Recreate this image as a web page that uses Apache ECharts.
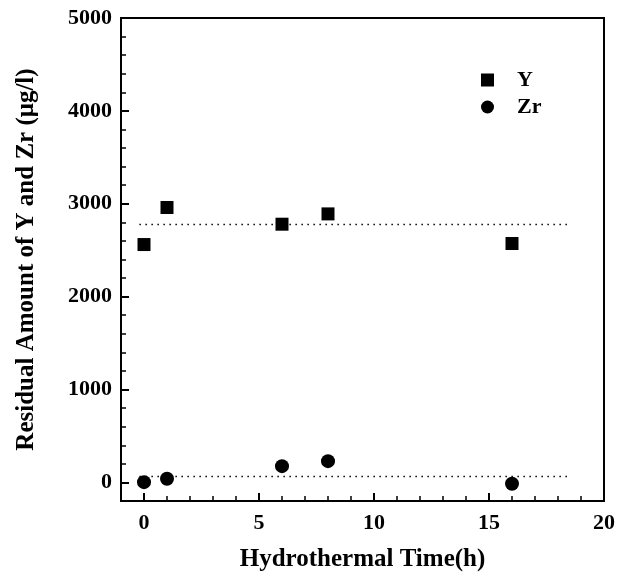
<!DOCTYPE html>
<html>
<head>
<meta charset="utf-8">
<script src="https://cdn.jsdelivr.net/npm/echarts@6/dist/echarts.min.js"></script>
<style>
html,body{margin:0;padding:0;background:#fff;}
#chart{width:628px;height:577px;}
</style>
</head>
<body>
<div id="chart"></div>
<script>
// ---- data ----
const timeH = [0, 1, 6, 8, 16];
const yResidual = [2561, 2960, 2780, 2891, 2572];
const zrResidual = [3, 40, 175, 229, -14];
const levelX = [-0.2, 18.4];
const yLevel = [2777, 2777];
const zrLevel = [65, 65];
const xTicks = [0, 5, 10, 15, 20];
const yTicks = [0, 1000, 2000, 3000, 4000, 5000];

const FONT = "'Liberation Serif', 'Times New Roman', serif";
const chart = echarts.init(document.getElementById('chart'));

const pairs = (xs, ys) => xs.map((x, i) => [x, ys[i]]);
const plain = v => String(v);

chart.setOption({
  backgroundColor: '#fff',
  animation: false,
  grid: {
    left: 121, right: 24, top: 18, bottom: 76,
    show: true, borderColor: '#000', borderWidth: 2,
    outerBoundsMode: 'none'
  },
  legend: {
    data: ['Y', 'Zr'],
    orient: 'vertical',
    left: 476, top: 64,
    itemWidth: 13, itemHeight: 13, itemGap: 5,
    textStyle: { fontFamily: FONT, fontWeight: 'bold', fontSize: 22, color: '#000', padding: [0, 0, 0, 18] }
  },
  xAxis: [
    {
      type: 'value', min: -1, max: 20,
      name: 'Hydrothermal Time(h)', nameLocation: 'middle', nameGap: 46,
      nameTextStyle: { fontFamily: FONT, fontWeight: 'bold', fontSize: 25, color: '#000' },
      axisLine: { show: true, onZero: false, lineStyle: { color: '#000', width: 2 } },
      axisTick: { show: true, inside: true, length: 8, customValues: xTicks, lineStyle: { color: '#000', width: 2 } },
      axisLabel: { customValues: xTicks, formatter: plain, margin: 11, fontFamily: FONT, fontWeight: 'bold', fontSize: 22, color: '#000' },
      splitLine: { show: false }
    },
    {
      type: 'value', min: -1, max: 20, interval: 1, position: 'bottom',
      axisLine: { show: false, onZero: false },
      axisTick: { show: true, inside: true, length: 5, lineStyle: { color: '#000', width: 1.5 } },
      axisLabel: { show: false },
      splitLine: { show: false }
    }
  ],
  yAxis: [
    {
      type: 'value', min: -200, max: 5000,
      name: 'Residual Amount of Y and Zr (μg/l)', nameLocation: 'middle', nameGap: 82,
      nameTextStyle: { fontFamily: FONT, fontWeight: 'bold', fontSize: 25, color: '#000' },
      axisLine: { show: true, onZero: false, lineStyle: { color: '#000', width: 2 } },
      axisTick: { show: true, inside: true, length: 8, customValues: yTicks, lineStyle: { color: '#000', width: 2 } },
      axisLabel: { customValues: yTicks, formatter: plain, margin: 9, fontFamily: FONT, fontWeight: 'bold', fontSize: 22, color: '#000' },
      splitLine: { show: false }
    },
    {
      type: 'value', min: -200, max: 5000, interval: 200, position: 'left',
      axisLine: { show: false, onZero: false },
      axisTick: { show: true, inside: true, length: 5, lineStyle: { color: '#000', width: 1.5 } },
      axisLabel: { show: false },
      splitLine: { show: false }
    }
  ],
  series: [
    {
      name: 'Y level', type: 'line', xAxisIndex: 0, yAxisIndex: 0,
      data: pairs(levelX, yLevel), symbol: 'none', z: 1,
      lineStyle: { color: '#000', width: 1.5, type: [1.5, 4.5] }
    },
    {
      name: 'Zr level', type: 'line', xAxisIndex: 0, yAxisIndex: 0,
      data: pairs(levelX, zrLevel), symbol: 'none', z: 1,
      lineStyle: { color: '#000', width: 1.5, type: [1.5, 4.5] }
    },
    {
      name: 'Y', type: 'scatter', xAxisIndex: 0, yAxisIndex: 0,
      data: pairs(timeH, yResidual), symbol: 'rect', symbolSize: 13, z: 3,
      itemStyle: { color: '#000', opacity: 1 }
    },
    {
      name: 'Zr', type: 'scatter', xAxisIndex: 0, yAxisIndex: 0,
      data: pairs(timeH, zrResidual), symbol: 'circle', symbolSize: 14, z: 3,
      itemStyle: { color: '#000', opacity: 1 }
    }
  ]
});
</script>
</body>
</html>
